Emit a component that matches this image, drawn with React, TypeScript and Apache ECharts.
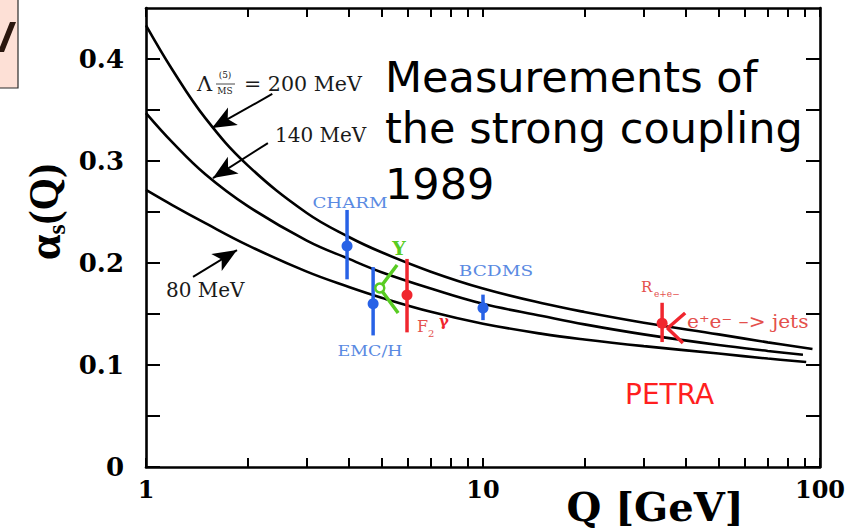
import React, { useEffect, useRef } from 'react';
import * as echarts from 'echarts';

// Running coupling curves alpha_s(Q) for three values of Lambda(5)_MSbar
const q200 = [1, 1.2, 1.5, 2, 3, 4, 5, 7, 10, 15, 20, 30, 50, 70, 95];
const alpha200 = [0.433, 0.389, 0.342, 0.296, 0.249, 0.2255, 0.2105, 0.1915, 0.175, 0.1605, 0.152, 0.1415, 0.13, 0.1222, 0.1157];
const q140 = [1, 1.2, 1.5, 2, 3, 4, 5, 7, 10, 15, 20, 30, 50, 70, 89];
const alpha140 = [0.347, 0.318, 0.287, 0.256, 0.222, 0.204, 0.191, 0.175, 0.16, 0.148, 0.1398, 0.13, 0.1196, 0.1138, 0.11];
const q80 = [1, 1.2, 1.5, 2, 3, 4, 5, 7, 10, 15, 20, 30, 50, 70, 91];
const alpha80 = [0.2716, 0.2565, 0.239, 0.2175, 0.1915, 0.1765, 0.166, 0.1522, 0.1405, 0.1305, 0.125, 0.1185, 0.1112, 0.1063, 0.103];

// Measurements with vertical error bars
const blueNames = ['CHARM', 'EMC/H', 'BCDMS'];
const blueQ = [3.95, 4.72, 10.0];
const blueAlpha = [0.2167, 0.16, 0.156];
const blueLow = [0.184, 0.129, 0.144];
const blueHigh = [0.252, 0.196, 0.169];

const redQ = [5.95, 34.0];
const redAlpha = [0.1686, 0.141];
const redLow = [0.132, 0.1225];
const redHigh = [0.204, 0.161];

// Upsilon decay and e+e- -> jets: central value with tilted band edges
const upsilonQ = [5.56, 4.94, 5.6];
const upsilonAlpha = [0.198, 0.1755, 0.151];
const jetsQ = [39.8, 35.3, 39.2];
const jetsAlpha = [0.151, 0.136, 0.1216];

// Arrows from the Lambda labels onto the curves: [Q start, alpha start, Q tip, alpha tip]
const arrow200 = [2.37, 0.3657, 1.57, 0.3324];
const arrow140 = [2.3, 0.3176, 1.58, 0.2833];
const arrow80 = [1.379, 0.1863, 1.862, 0.2127];

// Axis ticks and labels
const xTickValues = [1, 2, 3, 4, 5, 6, 7, 8, 9, 10, 20, 30, 40, 50, 60, 70, 80, 90, 100];
const xLabelValues = [1, 10, 100];
const yTickValues = [0, 0.05, 0.1, 0.15, 0.2, 0.25, 0.3, 0.35, 0.4];
const yLabelValues = [0, 0.1, 0.2, 0.3, 0.4];

const BLUE = '#2862e6';
const BLUE_TEXT = '#5a8ae2';
const RED = '#f0262e';
const RED_TEXT = '#e4504c';
const GREEN = '#58cc22';
const INK = '#1a1a1a';

const zip = (qs: number[], as: number[]) => qs.map((q, i) => [q, as[i]]);

const errorBarSeries = (name: string, qs: number[], vals: number[], lo: number[], hi: number[], color: string) => ({
  type: 'custom',
  name,
  data: qs.map((q, i) => [q, vals[i], lo[i], hi[i]]),
  encode: { x: 0, y: 1 },
  z: 5,
  renderItem: (_params: any, api: any) => {
    const c = api.coord([api.value(0), api.value(1)]);
    const l = api.coord([api.value(0), api.value(2)]);
    const h = api.coord([api.value(0), api.value(3)]);
    return {
      type: 'group',
      children: [
        { type: 'line', shape: { x1: l[0], y1: l[1], x2: h[0], y2: h[1] }, style: { stroke: color, lineWidth: 3.5 } },
        { type: 'circle', shape: { cx: c[0], cy: c[1], r: 5.5 }, style: { fill: color } },
      ],
    };
  },
});

const arrowLine = (a: number[]) => [
  { coord: [a[0], a[1]], symbol: 'none' },
  { coord: [a[2], a[3]], symbol: 'arrow' },
];

const curve = (name: string, data: number[][], arrow: number[]) => ({
  type: 'line',
  name,
  data,
  smooth: 0.4,
  showSymbol: false,
  symbol: 'none',
  lineStyle: { color: '#000', width: 2.6 },
  z: 3,
  markLine: {
    silent: true,
    symbol: ['none', 'arrow'],
    symbolSize: [15, 24],
    label: { show: false },
    lineStyle: { color: '#000', width: 2, type: 'solid' },
    data: [arrowLine(arrow)],
  },
});

const bandSeries = (name: string, qs: number[], as: number[], color: string, ring: boolean) => ({
  type: 'line',
  name,
  data: qs.map((q, i) => ({
    value: [q, as[i]],
    symbol: ring && i === 1 ? 'circle' : 'none',
  })),
  symbolSize: 9,
  showSymbol: true,
  lineStyle: { color, width: 3.5 },
  itemStyle: { color: '#ffffff', borderColor: color, borderWidth: 2.5 },
  z: 6,
});

const serif = 'DejaVu Serif';
const txt = (x: number, y: number, text: string, size: number, fill: string, extra: any = {}) => ({
  type: 'text',
  x,
  y,
  scaleX: extra.scaleX ?? 1,
  rotation: extra.rotation ?? 0,
  z: 10,
  style: {
    text,
    fontSize: size,
    fontFamily: extra.family ?? serif,
    fontWeight: extra.weight ?? 'normal',
    fill,
    align: extra.align ?? 'left',
    textAlign: extra.align ?? 'left',
    verticalAlign: 'middle',
    textVerticalAlign: 'middle',
    rich: extra.rich,
  },
});

const axisCommon = {
  axisLine: { show: true, onZero: false, lineStyle: { color: '#000', width: 2.6 } },
  splitLine: { show: false },
  minorTick: { show: false },
};

const option: any = {
  animation: false,
  backgroundColor: '#ffffff',
  grid: { left: 146, right: 41, top: 8, bottom: 61 },
  xAxis: [
    {
      ...axisCommon,
      type: 'log',
      logBase: 10,
      min: 1,
      max: 100,
      position: 'bottom',
      axisTick: { show: true, inside: true, length: 9, lineStyle: { color: '#000', width: 2 }, customValues: xTickValues },
      axisLabel: {
        show: true,
        customValues: xLabelValues,
        fontFamily: serif,
        fontWeight: 'bold',
        fontSize: 24,
        color: '#000',
        margin: 10,
        formatter: (v: number) => String(Math.round(v)),
      },
    },
    {
      ...axisCommon,
      type: 'log',
      logBase: 10,
      min: 1,
      max: 100,
      position: 'top',
      axisTick: { show: true, inside: true, length: 9, lineStyle: { color: '#000', width: 2 }, customValues: xTickValues },
      axisLabel: { show: false },
    },
  ],
  yAxis: [
    {
      ...axisCommon,
      type: 'value',
      min: 0,
      max: 0.45,
      position: 'left',
      axisTick: { show: true, inside: true, length: 14, lineStyle: { color: '#000', width: 2 }, customValues: yTickValues },
      axisLabel: {
        show: true,
        customValues: yLabelValues,
        fontFamily: serif,
        fontWeight: 'bold',
        fontSize: 26,
        color: '#000',
        margin: 22,
        formatter: (v: number) => (v === 0 ? '0' : v.toFixed(1)),
      },
    },
    {
      ...axisCommon,
      type: 'value',
      min: 0,
      max: 0.45,
      position: 'right',
      axisTick: { show: true, inside: true, length: 14, lineStyle: { color: '#000', width: 2 }, customValues: yTickValues },
      axisLabel: { show: false },
    },
  ],
  series: [
    curve('200 MeV', zip(q200, alpha200), arrow200),
    curve('140 MeV', zip(q140, alpha140), arrow140),
    curve('80 MeV', zip(q80, alpha80), arrow80),
    errorBarSeries('blue measurements', blueQ, blueAlpha, blueLow, blueHigh, BLUE),
    errorBarSeries('red measurements', redQ, redAlpha, redLow, redHigh, RED),
    bandSeries('Upsilon decay', upsilonQ, upsilonAlpha, GREEN, true),
    bandSeries('e+e- jets', jetsQ, jetsAlpha, RED, false),
  ],
  graphic: [
    // slide fragment at the top-left corner, with the edge of a letter stroke
    { type: 'rect', z: 10, shape: { x: -4, y: -4, width: 22, height: 92 }, style: { fill: '#fde0d6', stroke: '#2b2b2b', lineWidth: 1.2 } },
    { type: 'polygon', z: 11, shape: { points: [[10, 22], [16, 22], [4, 52], [-2, 52]] }, style: { fill: '#2a160e' } },

    // title
    txt(385, 77, 'Measurements of', 43, '#000', { family: 'DejaVu Sans' }),
    txt(385, 128, 'the strong coupling', 43, '#000', { family: 'DejaVu Sans' }),
    txt(385, 184, '1989', 43, '#000', { family: 'DejaVu Sans' }),

    // axis titles
    txt(655, 506, 'Q [GeV]', 40, '#000', { weight: 'bold', align: 'center' }),
    txt(44, 212, '{a|α}{s|s}{b|(Q)}', 42, '#000', {
      align: 'center',
      rotation: Math.PI / 2,
      family: 'Liberation Serif',
      weight: 'bold',
      rich: {
        a: { fontSize: 46, fontFamily: 'Liberation Serif', fontWeight: 'bold', lineHeight: 50, verticalAlign: 'middle' },
        s: { fontSize: 26, fontFamily: 'Liberation Serif', fontWeight: 'bold', lineHeight: 50, verticalAlign: 'bottom' },
        b: { fontSize: 42, fontFamily: 'Liberation Serif', fontWeight: 'bold', lineHeight: 50, verticalAlign: 'middle' },
      },
    }),

    // Lambda labels
    txt(197, 84, 'Λ', 21, INK),
    txt(225, 75, '(5)', 9, INK, { align: 'center' }),
    { type: 'line', z: 10, shape: { x1: 216, y1: 84, x2: 235, y2: 84 }, style: { stroke: INK, lineWidth: 0.8 } },
    txt(225, 91, 'MS', 9, INK, { align: 'center' }),
    txt(244, 84, '= 200 MeV', 20, INK, { scaleX: 1.03 }),
    txt(275, 135, '140 MeV', 20, INK),
    txt(166, 290, '80 MeV', 20, INK),

    // measurement labels
    txt(350, 203, blueNames[0], 14, BLUE_TEXT, { align: 'center', scaleX: 1.3 }),
    txt(370, 351, blueNames[1], 14, BLUE_TEXT, { align: 'center', scaleX: 1.25 }),
    txt(496, 271, blueNames[2], 14, BLUE_TEXT, { align: 'center', scaleX: 1.32 }),
    txt(399, 248, 'Y', 19, GREEN, { align: 'center', weight: 'bold' }),
    txt(417, 326, 'F', 16, RED_TEXT),
    txt(428, 333, '2', 10, RED_TEXT),
    txt(439, 321, 'γ', 15, RED, { weight: 'bold' }),
    txt(641, 287, 'R', 15, RED_TEXT),
    txt(654, 294, 'e+e−', 9, RED_TEXT),
    txt(687, 322, 'e⁺e⁻ –> jets', 18, RED_TEXT, { scaleX: 1.12 }),
    txt(625, 394, 'PETRA', 28, '#ff1f1f', { family: 'DejaVu Sans' }),
  ],
};

export default function App() {
  const ref = useRef<HTMLDivElement>(null);
  useEffect(() => {
    const chart = echarts.init(ref.current!, null, { renderer: 'svg' });
    chart.setOption(option);
    return () => chart.dispose();
  }, []);
  return <div ref={ref} style={{ position: 'fixed', left: 0, top: 0, width: 861, height: 528, background: '#fff' }} />;
}
